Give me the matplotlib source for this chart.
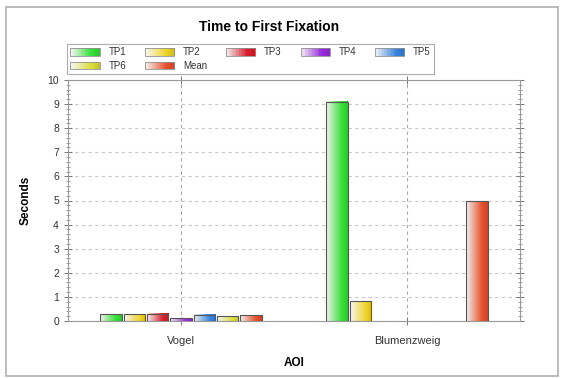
import matplotlib
matplotlib.use("Agg")
import matplotlib.pyplot as plt
import numpy as np
from matplotlib.patches import Rectangle, Patch
from matplotlib.legend_handler import HandlerBase
from matplotlib.ticker import MultipleLocator
import matplotlib.colors as mcolors

plt.rcParams['font.family'] = ['Liberation Sans', 'DejaVu Sans']

# Data
aois = ['Vogel', 'Blumenzweig']
series_names = ['TP1', 'TP2', 'TP3', 'TP4', 'TP5', 'TP6', 'Mean']
tp1 = [0.28, 9.10]
tp2 = [0.27, 0.82]
tp3 = [0.31, np.nan]
tp4 = [0.12, np.nan]
tp5 = [0.26, np.nan]
tp6 = [0.19, np.nan]
mean = [0.24, 4.96]
series_values = [tp1, tp2, tp3, tp4, tp5, tp6, mean]
series_colors = ['#35e035', '#f0d425', '#d8202c', '#9a2ce0', '#3784e0', '#dcdc38', '#e8502c']


def gradient_colors(color, n=40):
    # pale on the left, full colour on the right
    rgb = np.array(mcolors.to_rgb(color))
    t = np.linspace(0, 1, n)
    s = np.clip(0.05 + 1.3 * t, 0, 1)[:, None]
    cols = (1 - s) * np.array([0.97, 0.97, 0.97]) + s * rgb
    cols = cols * (1 - 0.12 * np.clip((t - 0.75) / 0.25, 0, 1))[:, None]
    return np.clip(cols, 0, 1)


class GradientHandler(HandlerBase):
    def create_artists(self, legend, orig_handle, xdescent, ydescent,
                       width, height, fontsize, trans):
        cols = gradient_colors(orig_handle.get_facecolor(), 20)
        n = len(cols)
        artists = []
        for i, c in enumerate(cols):
            artists.append(Rectangle((-xdescent + width * i / n, -ydescent),
                                     width / n + 0.3, height, facecolor=c,
                                     edgecolor='none', transform=trans))
        artists.append(Rectangle((-xdescent, -ydescent), width, height,
                                 facecolor='none', edgecolor='#909090',
                                 linewidth=0.6, transform=trans))
        return artists


W, H = 565, 378
fig = plt.figure(figsize=(W / 100, H / 100), dpi=100)
ax = fig.add_axes([68 / W, 1 - 321 / H, 452 / W, 241 / H])

# outer frame
fig.patches.append(Rectangle((6 / W, 2 / H), 552 / W, 369 / H, transform=fig.transFigure,
                             facecolor='none', edgecolor='#b0b0b0', linewidth=1.2))

bar_w = 0.103
x = np.arange(len(aois))
for k, (vals, col) in enumerate(zip(series_values, series_colors)):
    offset = (k - 3) * bar_w
    for xi, v in zip(x, vals):
        if np.isnan(v):
            continue
        x0 = xi + offset - bar_w / 2 + 0.004
        x1 = xi + offset + bar_w / 2 - 0.004
        grad = gradient_colors(col)[None, :, :]
        ax.imshow(grad, extent=(x0, x1, 0, v), aspect='auto',
                  interpolation='bilinear', zorder=3)
        ax.add_patch(Rectangle((x0, 0), x1 - x0, v, facecolor='none',
                               edgecolor='#555555', linewidth=0.8, zorder=4))

ax.set_xlim(-0.5, 1.5)
ax.set_ylim(0, 10)
ax.set_xticks(x)
ax.set_xticklabels(aois, fontsize=8, color='#333333')
ax.yaxis.set_major_locator(MultipleLocator(1))
ax.yaxis.set_minor_locator(MultipleLocator(0.2))
ax.tick_params(axis='y', which='major', direction='inout', length=6, width=0.7,
               labelsize=7.5, labelcolor='#333333', color='#777777', right=True)
ax.tick_params(axis='y', which='minor', direction='inout', length=3, width=0.5,
               color='#777777', right=True)
ax.tick_params(axis='x', which='major', direction='inout', length=6, width=0.7,
               color='#777777', top=True, pad=8)

ax.grid(True, axis='y', which='major', linestyle=(0, (3, 3)), color='#c8c8c8', linewidth=0.8, zorder=0)
ax.grid(True, axis='x', which='major', linestyle=(0, (3, 3)), color='#a8a8a8', linewidth=0.8, zorder=0)
ax.set_axisbelow(True)
for sp in ax.spines.values():
    sp.set_color('#999999')
    sp.set_linewidth(0.8)

ax.set_ylabel('Seconds', fontsize=8.5, fontweight='bold', labelpad=11)
ax.set_xlabel('AOI', fontsize=8.5, fontweight='bold', labelpad=8)
fig.text(269 / W, 1 - 27 / H, 'Time to First Fixation', ha='center', va='center',
         fontsize=10, fontweight='bold')

# legend fills column by column, so order the entries to read across rows
handles = [Patch(facecolor=c, label=n) for n, c in zip(series_names, series_colors)]
order = [0, 5, 1, 6, 2, 3, 4]
handles = [handles[i] for i in order]
leg = fig.legend(handles=handles, loc='upper left', bbox_to_anchor=(67 / W, 1 - 44 / H),
                 ncol=5, fontsize=7, frameon=True, fancybox=False,
                 handlelength=3.0, handleheight=0.8, handletextpad=0.9,
                 columnspacing=1.95, borderpad=0.35, labelspacing=0.35,
                 borderaxespad=0, handler_map={Patch: GradientHandler()})
leg.get_frame().set_edgecolor('#999999')
leg.get_frame().set_linewidth(0.8)
for t in leg.get_texts():
    t.set_color('#333333')

fig.savefig('out.png', dpi=100)
